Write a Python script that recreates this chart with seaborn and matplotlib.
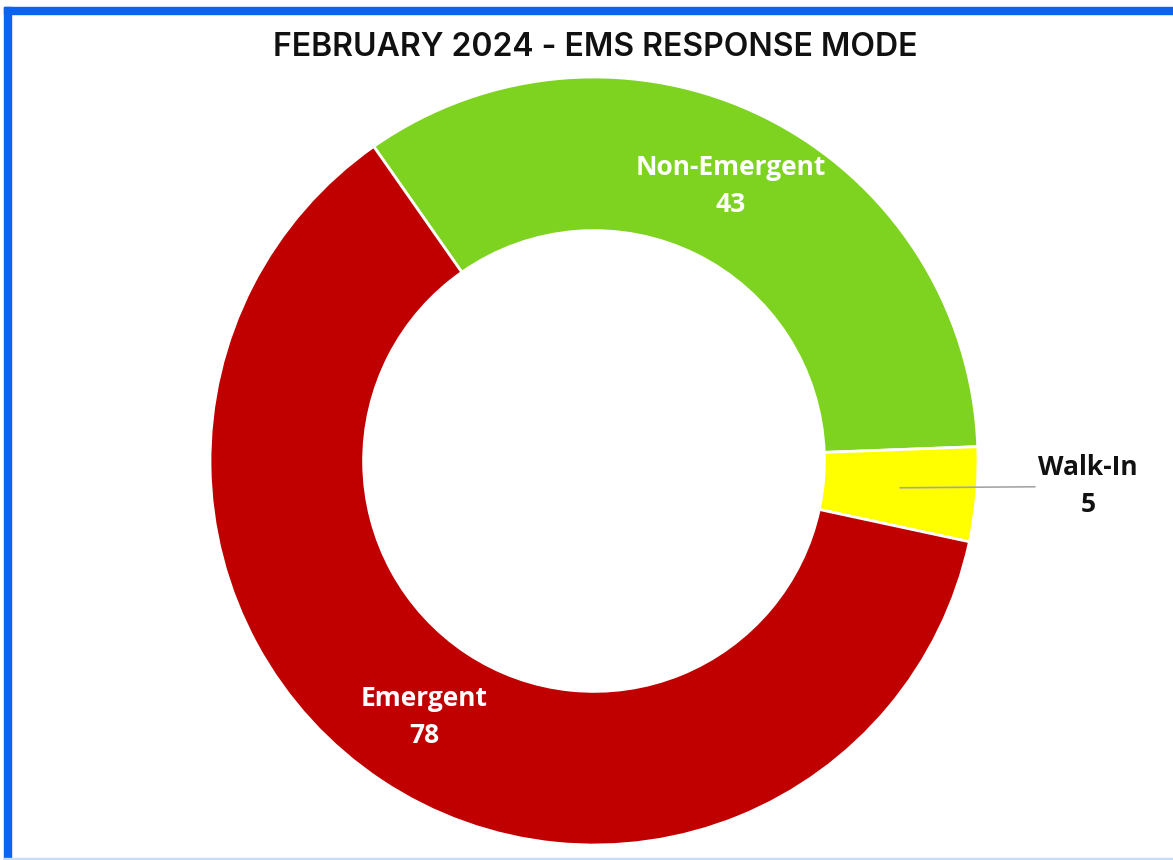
import numpy as np
import matplotlib
matplotlib.use("Agg")
import matplotlib.pyplot as plt
import seaborn as sns
from matplotlib.patches import Rectangle

# Response mode counts, in drawing order (clockwise from the upper left)
modes = ["Non-Emergent", "Walk-In", "Emergent"]
counts = [43, 5, 78]
colors = ["#7ED321", "#FFFF00", "#C00000"]
title = "FEBRUARY 2024 - EMS RESPONSE MODE"

sns.set_theme(style="white")
plt.rcParams["font.family"] = ["Open Sans", "DejaVu Sans"]

W, H = 1173, 860
fig = plt.figure(figsize=(W / 100, H / 100), dpi=100)
fig.patch.set_facecolor("white")
ax = fig.add_axes([0, 0, 1, 1])

cx, cy, R = 594, H - 461, 384
ring = 0.40
wedges, _ = ax.pie(
    counts, colors=colors, startangle=125, counterclock=False,
    center=(cx, cy), radius=R, frame=True,
    wedgeprops=dict(width=R * ring, edgecolor="white", linewidth=2),
)
ax.set_xlim(0, W)
ax.set_ylim(0, H)
ax.set_aspect("equal")
ax.axis("off")

label_kw = dict(ha="center", va="center", fontsize=19, fontweight="bold",
                linespacing=1.5)

# Labels inside the ring for the large slices, outside with a leader for the small one
mid_r = R * (1 - ring / 2)
for w, name, n in zip(wedges, modes, counts):
    ang = np.deg2rad((w.theta1 + w.theta2) / 2)
    if name == "Walk-In":
        x0 = cx + (R * 0.80) * np.cos(ang)
        y0 = cy + (R * 0.80) * np.sin(ang)
        ax.plot([x0, 1035], [y0, y0 + 1], color="#A6A6A6", lw=1.2)
        ax.text(1088, H - 486, f"{name}\n{n}", color="#111111", **label_kw)
    else:
        x = cx + mid_r * np.cos(ang)
        y = cy + mid_r * np.sin(ang)
        ax.text(x, y, f"{name}\n{n}", color="white", **label_kw)

fig.text(595 / W, 1 - 48 / H, title, ha="center", va="center",
         fontsize=23, fontweight="semibold", color="#111111",
         family=["Inter", "DejaVu Sans"])

# Blue frame along the top and left, thin light line at the bottom
fig.patches.append(Rectangle((4 / W, 0), 7 / W, 1 - 7 / H, transform=fig.transFigure,
                             color="#0A64F0", zorder=5))
fig.patches.append(Rectangle((4 / W, 1 - 14 / H), 1, 7 / H, transform=fig.transFigure,
                             color="#0A64F0", zorder=5))
fig.patches.append(Rectangle((4 / W, 0), 1, 2 / H, transform=fig.transFigure,
                             color="#C9DDF5", zorder=5))

fig.savefig("out.png", dpi=100, facecolor="white")
